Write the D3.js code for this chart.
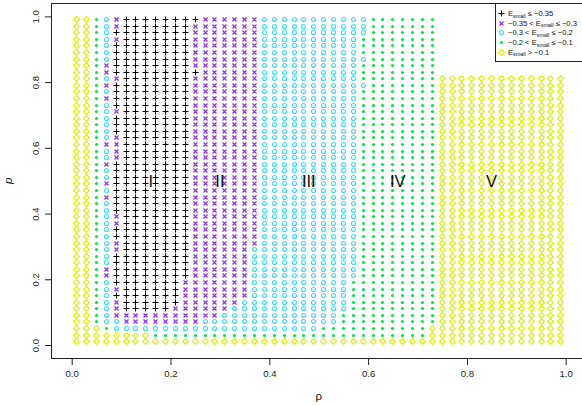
<!DOCTYPE html>
<html><head><meta charset="utf-8">
<script src="https://cdn.jsdelivr.net/npm/d3@7"></script>
<style>
body{margin:0;background:#fff}
svg{display:block;font-family:"Liberation Sans",Arial,Helvetica,sans-serif}
</style>
</head><body>
<svg id="chart" width="582" height="405"></svg>
<script>
// ---------- data ----------
const rhoGrid = [0.01,0.03,0.05,0.07,0.09,0.11,0.13,0.15,0.17,0.19,0.21,0.23,0.25,0.27,0.29,0.31,0.33,0.35,0.37,0.39,
                 0.41,0.43,0.45,0.47,0.49,0.51,0.53,0.55,0.57,0.59,0.61,0.63,0.65,0.67,0.69,0.71,0.73,0.75,0.77,0.79,
                 0.81,0.83,0.85,0.87,0.89,0.91,0.93,0.95,0.97,0.99];
const pGrid   = [0.01,0.03,0.05,0.07,0.09,0.11,0.13,0.15,0.17,0.19,0.21,0.23,0.25,0.27,0.29,0.31,0.33,0.35,0.37,0.39,
                 0.41,0.43,0.45,0.47,0.49,0.51,0.53,0.55,0.57,0.59,0.61,0.63,0.65,0.67,0.69,0.71,0.73,0.75,0.77,0.79,
                 0.81,0.83,0.85,0.87,0.89,0.91,0.93,0.95,0.97,0.99];
// E_small class of each grid cell, one run-length string per rho column, read from p = 0.01 upward.
// A: E<=-0.35  B: -0.35<E<=-0.3  C: -0.3<E<=-0.2  D: -0.2<E<=-0.1  E: E>-0.1  N: no point
const classColumns = [
  "E50","E50","E3 D47",
  "E2 D1 C7 B2 C10 B1 C1 B1 C2 B1 C2 B1 C6 B1 C1 B1 C1 B2 C7",
  "E2 C2 B3 A1 B1 A5 B2 A2 B2 A8 B4 A3 B1 A4 B1 A5 B1 A1 B2",
  "E2 C1 B2 A45","E2 C1 B2 A45","E2 C1 B2 A45",
  "E1 D1 C1 B2 A45","E1 D1 C1 B2 A45",
  "E1 D1 C1 B3 A44",
  "E1 D1 C1 B7 A40",
  "E1 D1 C1 B38 A1 B7 A1",
  "E1 D1 C2 B46","E1 D1 C2 B46",
  "E1 D1 C3 B45","E1 D1 C4 B44","E1 D1 C5 B43",
  "E1 D1 C13 B35",
  "E1 D1 C48","E1 D1 C48","E1 D1 C48","E1 D1 C48","E1 D1 C48","E1 D1 C48",
  "E1 D2 C47","E1 D2 C47",
  "E1 D4 C45",
  "E1 D9 C40",
  "E1 D38 C1 D3 C1 D3 C3",
  "E1 D49","E1 D49","E1 D49","E1 D49","E1 D49","E1 D49",
  "E3 D47",
  "E41 N9","E41 N9","E41 N9","E41 N9","E41 N9","E41 N9","E41 N9",
  "E41 N9","E41 N9","E41 N9","E41 N9","E41 N9","E41 N9"
];
const classKeys   = ["A","B","C","D","E"];
const classColors = ["#000000","#8C2BF0","#3FDDF5","#00E84A","#DCF000"];
const legendPre   = ["E","\u22120.35 < E","\u22120.3 < E","\u22120.2 < E","E"];
const legendPost  = [" \u2264 \u22120.35"," \u2264 \u22120.3"," \u2264 \u22120.2"," \u2264 \u22120.1"," > \u22120.1"];
const xTicks = [0,0.2,0.4,0.6,0.8,1.0];
const yTicks = [0,0.2,0.4,0.6,0.8,1.0];
const regionNames = ["I","II","III","IV","V"];
const regionRho   = [0.16,0.30,0.48,0.66,0.85];
const regionP     = [0.5,0.5,0.5,0.5,0.5];

// ---------- build point list ----------
const points = [];
classColumns.forEach((col, i) => {
  let j = 0;
  col.trim().split(/\s+/).forEach(tok => {
    const k = tok[0], n = +tok.slice(1);
    for (let m = 0; m < n; m++, j++) {
      if (k !== "N") points.push({rho: rhoGrid[i], p: pGrid[j], cls: k});
    }
  });
});

// ---------- scales ----------
const svg = d3.select("#chart");
const x = d3.scaleLinear().domain([0,1]).range([71.7,565.7]);
const y = d3.scaleLinear().domain([0,1]).range([345,16.4]);
const color = d3.scaleOrdinal().domain(classKeys).range(classColors);
const snap = v => Math.round(v - 0.5) + 0.5;

const rc = 2.0, rx = 2.0, h = 3.0, hd = 2.9;
function symbolPath(k){
  switch(k){
    case "A": return `M${-h},0H${h}M0,${-h}V${h}`;
    case "B": return `M${-rx},${-rx}L${rx},${rx}M${-rx},${rx}L${rx},${-rx}`;
    case "E": return `M0,${-hd}L${hd},0L0,${hd}L${-hd},0Z`;
  }
  return null;
}
function drawSymbol(g, k){
  const c = color(k);
  if (k === "C") g.append("circle").attr("r", rc).attr("fill","none").attr("stroke",c).attr("stroke-width",1.15);
  else if (k === "D") g.append("circle").attr("r", 1.6).attr("fill",c);
  else g.append("path").attr("d", symbolPath(k)).attr("fill","none").attr("stroke",c)
         .attr("stroke-width", k === "A" ? 1 : 1.15);
}

// points
const pg = svg.append("g");
points.forEach(d => {
  const g = pg.append("g").attr("transform", `translate(${snap(x(d.rho))},${snap(y(d.p))})`);
  drawSymbol(g, d.cls);
});

// region labels
svg.append("g").selectAll("text").data(regionNames).join("text")
  .attr("x",(d,i)=>x(regionRho[i])).attr("y",(d,i)=>y(regionP[i]))
  .attr("dy","0.36em").attr("text-anchor","middle")
  .attr("font-size",16.5).attr("fill","#111").text(d=>d);

// box
svg.append("rect")
  .attr("x", snap(x(-0.04))).attr("y", snap(y(1.04)))
  .attr("width", 600).attr("height", snap(y(-0.04))-snap(y(1.04)))
  .attr("fill","none").attr("stroke","#222").attr("stroke-width",1);

// axes
const xa = svg.append("g").attr("transform",`translate(0,${snap(y(-0.04))})`)
  .call(d3.axisBottom(x).tickValues(xTicks).tickSize(6.5).tickPadding(5).tickFormat(d3.format(".1f")));
xa.select(".domain").attr("d",`M${x(0)},0H${x(1)}`).attr("stroke","#222");
xa.selectAll("text").attr("font-size",9.6).attr("fill","#222").attr("font-family","Liberation Sans, Arial, sans-serif");
xa.selectAll("line").attr("stroke","#222");

const ya = svg.append("g").attr("transform",`translate(${snap(x(-0.04))},0)`)
  .call(d3.axisLeft(y).tickValues(yTicks).tickSize(6.5).tickFormat(d3.format(".1f")));
ya.select(".domain").attr("d",`M0,${y(0)}V${y(1)}`).attr("stroke","#222");
ya.selectAll("line").attr("stroke","#222");
ya.selectAll("text")
  .attr("x",null).attr("dy",null)
  .attr("transform","translate(-16.5,0) rotate(-90)")
  .attr("text-anchor","middle").attr("dominant-baseline","central")
  .attr("font-size",9.6).attr("fill","#222").attr("font-family","Liberation Sans, Arial, sans-serif");

// axis titles
svg.append("text").attr("x",(x(-0.04)+x(1.04))/2).attr("y",400)
  .attr("text-anchor","middle").attr("font-size",11.5).attr("fill","#111").text("\u03c1");
svg.append("text").attr("transform",`translate(12,${y(0.5)}) rotate(-90)`)
  .attr("text-anchor","middle").attr("font-size",11.5).attr("font-style","italic").attr("fill","#111").text("p");

// legend
const lg = svg.append("g");
lg.append("rect").attr("x",495.5).attr("y",snap(y(1.04))).attr("width",100).attr("height",58)
  .attr("fill","#fff").attr("stroke","#222").attr("stroke-width",1);
classKeys.forEach((k,i)=>{
  const ly = 13.3 + i*9.7;
  const g = lg.append("g").attr("transform",`translate(501.5,${snap(ly)})`);
  drawSymbol(g,k);
  const t = lg.append("text").attr("x",508).attr("y",ly).attr("dy","0.35em")
    .attr("font-size",7.6).attr("fill","#111");
  t.append("tspan").text(legendPre[i]);
  t.append("tspan").attr("dy","1.6").attr("font-size",5.4).text("small");
  t.append("tspan").attr("dy","-1.6").text(legendPost[i]);
});
</script>
</body></html>
